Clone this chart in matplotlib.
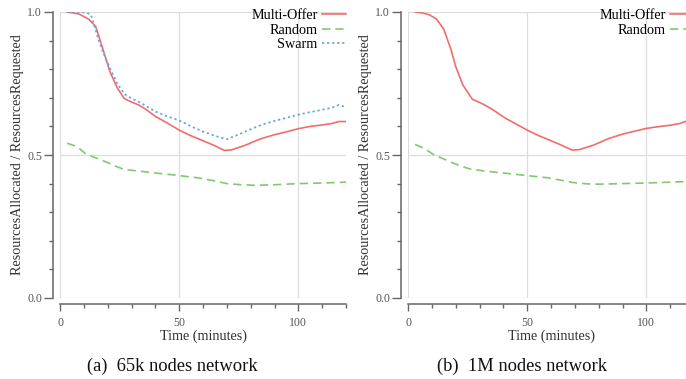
import matplotlib
matplotlib.use("Agg")
import matplotlib.pyplot as plt
from matplotlib.ticker import MultipleLocator

plt.rcParams['font.family'] = ['Liberation Serif', 'DejaVu Serif']

# 65k nodes network
left_multi_x = [3, 8, 12, 15, 18, 21, 24, 27, 30, 33, 36, 40, 45, 50, 55,
                60, 65, 69, 72, 78, 84, 90, 96, 100, 105, 110, 114, 117, 120]
left_multi_y = [1.0, 0.993, 0.975, 0.949, 0.87, 0.79, 0.735, 0.697, 0.685,
                0.675, 0.66, 0.635, 0.612, 0.587, 0.567, 0.55, 0.532, 0.516,
                0.518, 0.535, 0.556, 0.571, 0.583, 0.592, 0.6, 0.605, 0.61,
                0.617, 0.617]
left_swarm_x = [3, 8, 11, 13, 16, 18, 21, 24, 27, 30, 33, 36, 40, 45, 50, 55,
                60, 65, 70, 75, 80, 85, 90, 95, 100, 105, 110, 114, 117, 120]
left_swarm_y = [1.0, 1.0, 0.998, 0.99, 0.908, 0.86, 0.803, 0.75, 0.713,
                0.698, 0.686, 0.672, 0.652, 0.635, 0.621, 0.6, 0.582, 0.567,
                0.555, 0.572, 0.59, 0.607, 0.619, 0.63, 0.641, 0.65, 0.658,
                0.665, 0.675, 0.667]
left_random_x = [3, 7, 11, 15, 19, 23, 27, 33, 40, 47, 50, 58, 64, 70, 76,
                 82, 90, 100, 110, 120]
left_random_y = [0.541, 0.53, 0.503, 0.49, 0.477, 0.462, 0.449, 0.444, 0.437,
                 0.431, 0.428, 0.42, 0.411, 0.4, 0.396, 0.394, 0.396, 0.4,
                 0.402, 0.405]

# 1M nodes network
right_multi_x = [3, 6, 9, 12, 15, 18, 20, 23, 27, 30, 33, 36, 41, 45, 50, 55,
                 60, 65, 69, 72, 78, 84, 90, 96, 100, 105, 110, 114, 117, 120]
right_multi_y = [1.0, 0.997, 0.99, 0.975, 0.94, 0.87, 0.81, 0.745, 0.695,
                 0.684, 0.671, 0.656, 0.628, 0.61, 0.587, 0.567, 0.55, 0.532,
                 0.517, 0.519, 0.535, 0.557, 0.573, 0.585, 0.593, 0.599,
                 0.604, 0.61, 0.619, 0.625]
right_random_x = [3, 7, 11, 15, 18, 22, 26, 33, 40, 50, 58, 64, 69, 75, 80,
                  90, 100, 110, 120]
right_random_y = [0.537, 0.522, 0.5, 0.486, 0.475, 0.462, 0.451, 0.443,
                  0.437, 0.428, 0.421, 0.412, 0.404, 0.399, 0.398, 0.4,
                  0.402, 0.405, 0.408]

RED = '#f26c6c'
GREEN = '#7fca6c'
BLUE = '#62a6e6'
AXIS_GRAY = '#666666'
LABEL_SIZE = 10.2


def style_axis(ax):
    """
    Gnuplot-like look: offset gray spines, light grid at the major ticks.
    """
    ax.set_xlim(0, 120)
    ax.set_ylim(0, 1)
    for side in ['top', 'right']:
        ax.spines[side].set_visible(False)
    ax.spines['left'].set_position(('outward', 5))
    ax.spines['bottom'].set_position(('outward', 4.5))
    ax.spines['left'].set_bounds(0, 1)
    ax.spines['bottom'].set_bounds(0, 120)
    for side in ['left', 'bottom']:
        ax.spines[side].set_color(AXIS_GRAY)
        ax.spines[side].set_linewidth(1.1)

    ax.xaxis.set_major_locator(MultipleLocator(50))
    ax.xaxis.set_minor_locator(MultipleLocator(10))
    ax.yaxis.set_major_locator(MultipleLocator(0.5))
    ax.yaxis.set_minor_locator(MultipleLocator(0.1))
    ax.yaxis.set_major_formatter(lambda v, pos: f"{v:.1f}")
    ax.tick_params(which='major', width=1, color=AXIS_GRAY,
                   labelsize=8.5, labelcolor='#555555')
    ax.tick_params(axis='x', which='major', length=5, pad=4.5)
    ax.tick_params(axis='y', which='major', length=6.5, pad=1.5)
    ax.tick_params(which='minor', length=3, width=1, color=AXIS_GRAY)

    ax.grid(True, which='major', color='#dddddd', linewidth=0.9)
    ax.set_axisbelow(True)

    ax.set_xlabel('Time (minutes)', fontsize=LABEL_SIZE, color='#333333',
                  labelpad=0)
    ax.set_ylabel('ResourcesAllocated / ResourcesRequested',
                  fontsize=LABEL_SIZE, color='#333333', labelpad=2.5)


def add_legend(ax):
    ax.legend(loc='upper right', bbox_to_anchor=(1.0, 1.01),
              frameon=False, markerfirst=False, fontsize=LABEL_SIZE,
              handlelength=1.7, handletextpad=0.3, labelspacing=0.1,
              borderpad=0, borderaxespad=0)


def main():
    fig = plt.figure(figsize=(6.86, 3.79), dpi=100)

    ax_left = fig.add_axes([60 / 686, 81 / 379, 286 / 686, 286 / 379])
    ax_right = fig.add_axes([408 / 686, 81 / 379, 286 / 686, 286 / 379])

    # Left panel: three strategies
    ax_left.plot(left_multi_x, left_multi_y, color=RED, lw=1.2,
                 label='Multi-Offer')
    ax_left.plot(left_random_x, left_random_y, color=GREEN, lw=1.2,
                 dashes=(5, 3), label='Random')
    ax_left.plot(left_swarm_x, left_swarm_y, color=BLUE, lw=1.3,
                 dashes=(1.2, 1.6), label='Swarm')
    style_axis(ax_left)
    add_legend(ax_left)

    # Right panel: Swarm missing for the big network
    ax_right.plot(right_multi_x, right_multi_y, color=RED, lw=1.2,
                  label='Multi-Offer')
    ax_right.plot(right_random_x, right_random_y, color=GREEN, lw=1.2,
                  dashes=(5, 3), label='Random')
    style_axis(ax_right)
    add_legend(ax_right)

    # Sub-captions under each panel
    fig.text(172 / 686, 1 - 366 / 379, '(a)  65k nodes network',
             ha='center', va='center', fontsize=13.3, color='#111111')
    fig.text(522 / 686, 1 - 366 / 379, '(b)  1M nodes network',
             ha='center', va='center', fontsize=13.3, color='#111111')

    fig.savefig('out.png', dpi=100)


if __name__ == "__main__":
    main()
